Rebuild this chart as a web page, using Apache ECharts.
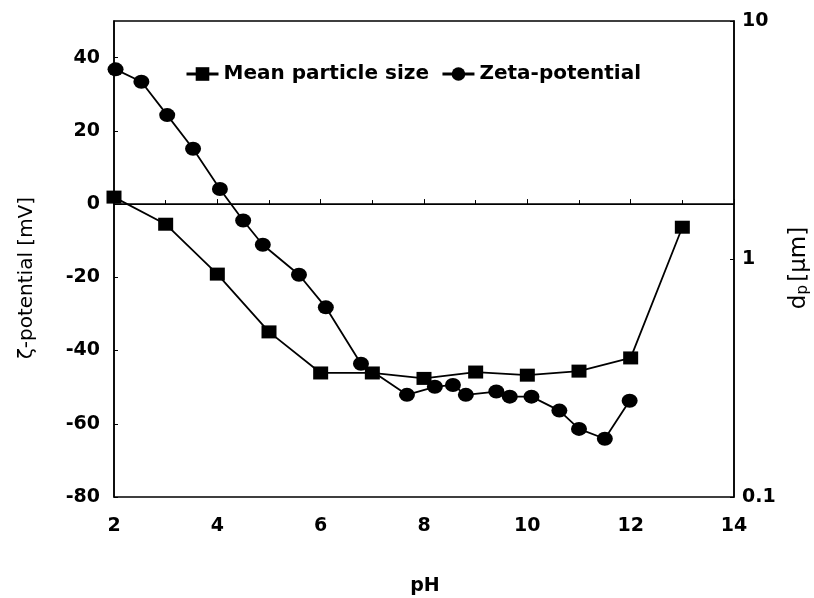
<!DOCTYPE html>
<html>
<head>
<meta charset="utf-8">
<script src="https://cdn.jsdelivr.net/npm/echarts@6/dist/echarts.min.js"></script>
<style>
  html, body { margin: 0; padding: 0; background: #fff; }
  #chart { width: 814px; height: 598px; }
</style>
</head>
<body>
<div id="chart"></div>
<script>
// Zeta-potential measurements (left axis, mV) against pH
const phZeta = [2.03, 2.53, 3.03, 3.53, 4.05, 4.5, 4.88, 5.58, 6.1, 6.78, 7.67, 8.21, 8.56, 8.81, 9.4, 9.66, 10.08, 10.62, 11.0, 11.5, 11.98];
const zeta = [36.8, 33.4, 24.3, 15.1, 4.1, -4.5, -11.1, -19.3, -28.2, -43.6, -52.1, -49.9, -49.4, -52.1, -51.2, -52.6, -52.6, -56.4, -61.4, -64.1, -53.7];

// Mean particle size d_p (right log axis, µm) against pH
const phSize = [2, 3, 4, 5, 6, 7, 8, 9, 10, 11, 12, 13];
const meanSize = [1.82, 1.40, 0.864, 0.494, 0.332, 0.332, 0.315, 0.335, 0.325, 0.338, 0.384, 1.36];

// Axis ranges and labels
const phRange = [2, 14];
const zetaRange = [-80, 50];
const sizeRange = [0.1, 10];
const seriesNames = ['Mean particle size', 'Zeta-potential'];
const xTitle = 'pH';
const leftTitle = 'ζ-potential [mV]';

const FONT = '"DejaVu Sans", "Liberation Sans", Arial, sans-serif';

const chart = echarts.init(document.getElementById('chart'), null, { renderer: 'canvas' });

const tickLabel = { color: '#000', fontFamily: FONT, fontWeight: 'bold', fontSize: 19 };

chart.setOption({
  animation: false,
  backgroundColor: '#fff',
  grid: {
    left: 114, right: 80, top: 21, bottom: 101,
    show: true, borderColor: '#000', borderWidth: 1.5, backgroundColor: 'transparent'
  },
  legend: {
    data: seriesNames,
    left: 180, top: 59,
    itemWidth: 32, itemHeight: 17, itemGap: 12,
    lineStyle: { width: 3 },
    textStyle: { color: '#000', fontFamily: FONT, fontWeight: 'bold', fontSize: 20 }
  },
  xAxis: {
    type: 'value',
    min: phRange[0], max: phRange[1], interval: 2,
    axisLine: { show: true, lineStyle: { color: '#000', width: 1.5 } },
    axisTick: { show: true, inside: true, length: 5, lineStyle: { color: '#000' } },
    minorTick: { show: true, splitNumber: 2, length: 4, lineStyle: { color: '#000' } },
    splitLine: { show: false },
    axisLabel: Object.assign({ margin: 20 }, tickLabel)
  },
  yAxis: [
    {
      type: 'value', position: 'left',
      min: zetaRange[0], max: zetaRange[1], interval: 20,
      axisLine: { show: true, onZero: false, lineStyle: { color: '#000', width: 1.5 } },
      axisTick: { show: true, inside: true, length: 4, lineStyle: { color: '#000' } },
      splitLine: { show: false },
      axisLabel: Object.assign({ margin: 14, showMaxLabel: false }, tickLabel)
    },
    {
      type: 'log', logBase: 10, position: 'right',
      min: sizeRange[0], max: sizeRange[1],
      axisLine: { show: true, onZero: false, lineStyle: { color: '#000', width: 1.5 } },
      axisTick: { show: true, inside: true, length: 4, lineStyle: { color: '#000' } },
      splitLine: { show: false },
      axisLabel: Object.assign({
        margin: 8,
        formatter: v => String(Math.round(v * 10) / 10)
      }, tickLabel)
    }
  ],
  series: [
    {
      name: seriesNames[0],
      type: 'line',
      yAxisIndex: 1,
      data: phSize.map((p, i) => [p, meanSize[i]]),
      symbol: 'rect', symbolSize: [15, 13],
      itemStyle: { color: '#000' },
      lineStyle: { color: '#000', width: 1.8 },
      z: 3
    },
    {
      name: seriesNames[1],
      type: 'line',
      yAxisIndex: 0,
      data: phZeta.map((p, i) => [p, zeta[i]]),
      symbol: 'circle', symbolSize: [16, 14],
      itemStyle: { color: '#000' },
      lineStyle: { color: '#000', width: 1.8 },
      z: 3,
      markLine: {
        silent: true,
        symbol: 'none',
        label: { show: false },
        lineStyle: { color: '#000', type: 'solid', width: 1.2 },
        data: [{ yAxis: 0 }],
        z: 1
      }
    }
  ],
  graphic: [
    {
      type: 'text', x: 425, y: 586,
      style: { text: xTitle, fill: '#000', font: 'bold 19px ' + FONT, align: 'center', verticalAlign: 'middle' }
    },
    {
      type: 'text', x: 27, y: 278, rotation: Math.PI / 2,
      style: { text: leftTitle, fill: '#000', font: '20px ' + FONT, align: 'center', verticalAlign: 'middle' }
    },
    {
      type: 'text', x: 799, y: 268, rotation: Math.PI / 2,
      style: {
        text: '{d|d}{s|p} {d|[μm]}',
        fill: '#000', align: 'center', verticalAlign: 'middle',
        rich: {
          d: { fontFamily: FONT, fontSize: 23, fill: '#000', verticalAlign: 'bottom' },
          s: { fontFamily: FONT, fontSize: 15, fill: '#000', padding: [9, 0, 0, 0] }
        }
      }
    }
  ]
});
</script>
</body>
</html>
